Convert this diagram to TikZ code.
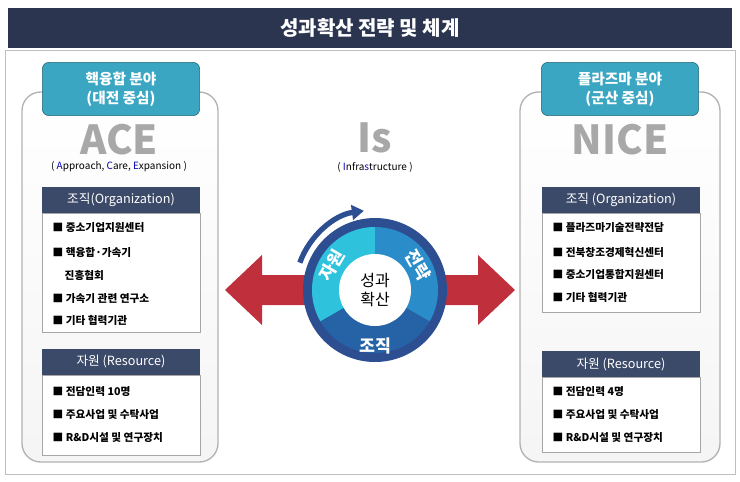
\documentclass[tikz,border=0pt]{standalone}
\usepackage{fontspec}
\setmainfont{Noto Sans CJK KR}
\usetikzlibrary{positioning,arrows.meta,calc}
\definecolor{navy}{HTML}{2B3550}
\definecolor{hbar}{HTML}{3C4A6A}
\definecolor{tab}{HTML}{3AA6C2}
\definecolor{ring}{HTML}{2D4F92}
\definecolor{segA}{HTML}{2FC2DD}
\definecolor{segB}{HTML}{2A8CC8}
\definecolor{segC}{HTML}{2662A6}
\definecolor{redarr}{HTML}{C0303C}
\definecolor{bigg}{HTML}{A8A8A8}
\tikzset{panel/.style={draw=gray!60, line width=1pt, rounded corners=14pt, top color=white, bottom color=gray!8}}
\tikzset{tabbox/.style={draw=tab!60!black, fill=tab, rounded corners=5pt, text=white, font=\bfseries\fontsize{11}{14}\selectfont, align=center}}
\tikzset{hdr/.style={fill=hbar, text=white, font=\fontsize{9.5}{11}\selectfont}}
\tikzset{listbox/.style={draw=gray!70, fill=white}}
\tikzset{item/.style={anchor=west, font=\bfseries\fontsize{8}{10}\selectfont}}
\tikzset{bigword/.style={text=bigg, font=\bfseries\fontsize{30}{30}\selectfont}}
\tikzset{subword/.style={font=\fontsize{7.5}{9}\selectfont}}
\tikzset{seglabel/.style={text=white, font=\bfseries\fontsize{13}{13}\selectfont}}
\newcommand{\bl}[1]{\textcolor{blue!70!black}{#1}}
\begin{document}
\begin{tikzpicture}[x=0.75pt,y=-0.75pt]
\useasboundingbox (0,0) rectangle (740,482);
% frame and title
\draw[gray!50] (5,50) rectangle (735,474);
\fill[navy] (8,8) rectangle (732,48);
\node[text=white, font=\bfseries\fontsize{15}{15}\selectfont] (title) at (370,28) {성과확산 전략 및 체계};
% left panel
\draw[panel] (22,92) rectangle (218,462);
\node[tabbox, minimum width=118pt, minimum height=40pt] (ltab) at (121,89) {핵융합 분야\\(대전 중심)};
\node[bigword] (ace) at (119,140) {ACE};
\node[subword] (acesub) at (119,167) {( \bl{A}pproach, \bl{C}are, \bl{E}xpansion )};
\draw[listbox] (42,213) rectangle (200,332);
\node[hdr, minimum width=118.5pt, minimum height=20pt] (lorg) at (121,200) {조직(Organization)};
\node[item] (lo1) at (48,228) {■ 중소기업지원센터};
\node[item] (lo2) at (48,252) {■ 핵융합·가속기};
\node[item] (lo3) at (60,275) {진흥협회};
\node[item] (lo4) at (48,298) {■ 가속기 관련 연구소};
\node[item] (lo5) at (48,320) {■ 기타 협력기관};
\draw[listbox] (42,375) rectangle (200,455);
\node[hdr, minimum width=118.5pt, minimum height=20pt] (lres) at (121,362) {자원 (Resource)};
\node[item] (lr1) at (48,392) {■ 전담인력 10명};
\node[item] (lr2) at (48,415) {■ 주요사업 및 수탁사업};
\node[item] (lr3) at (48,438) {■ R\&D시설 및 연구장치};
% right panel
\draw[panel] (520,92) rectangle (720,462);
\node[tabbox, minimum width=118pt, minimum height=40pt] (rtab) at (620,89) {플라즈마 분야\\(군산 중심)};
\node[bigword] (nice) at (620,140) {NICE};
\draw[listbox] (542,213) rectangle (700,312);
\node[hdr, minimum width=118.5pt, minimum height=20pt] (rorg) at (621,200) {조직 (Organization)};
\node[item] (ro1) at (548,228) {■ 플라즈마기술전략전담};
\node[item] (ro2) at (548,252) {■ 전북창조경제혁신센터};
\node[item] (ro3) at (548,274) {■ 중소기업통합지원센터};
\node[item] (ro4) at (548,297) {■ 기타 협력기관};
\draw[listbox] (542,377) rectangle (700,452);
\node[hdr, minimum width=118.5pt, minimum height=20pt] (rres) at (621,364) {자원 (Resource)};
\node[item] (rr1) at (548,392) {■ 전담인력 4명};
\node[item] (rr2) at (548,415) {■ 주요사업 및 수탁사업};
\node[item] (rr3) at (548,438) {■ R\&D시설 및 연구장치};
% center
\node[bigword] (is) at (375,138) {Is};
\node[subword] (issub) at (375,167) {( \bl{I}nfra\bl{s}tructure )};
\fill[redarr] (225,290) -- (262,255) -- (262,275) -- (305,275) -- (305,305) -- (262,305) -- (262,325) -- cycle;
\fill[redarr] (515,290) -- (478,255) -- (478,275) -- (445,275) -- (445,305) -- (478,305) -- (478,325) -- cycle;
\begin{scope}[shift={(375,290)}, yscale=-1]
\coordinate (c) at (0,0);
\fill[ring] (c) circle[radius=72];
\fill[segA] (c) -- (90:63) arc[start angle=90, end angle=210, radius=63] -- cycle;
\fill[segB] (c) -- (-30:63) arc[start angle=-30, end angle=90, radius=63] -- cycle;
\fill[segC] (c) -- (210:63) arc[start angle=210, end angle=330, radius=63] -- cycle;
\fill[white] (c) circle[radius=36];
\draw[ring, line width=4pt, -{Triangle[length=9pt,width=11pt]}] (160:80) arc[start angle=160, end angle=98, radius=80];
\node[font=\fontsize{12}{14}\selectfont, align=center] (core) at (c) {성과\\확산};
\node[seglabel, rotate=60] (jw) at (150:50) {자원};
\node[seglabel, rotate=-60] (jr) at (30:50) {전략};
\node[seglabel] (jj) at (270:56) {조직};
\end{scope}
\end{tikzpicture}
\end{document}
